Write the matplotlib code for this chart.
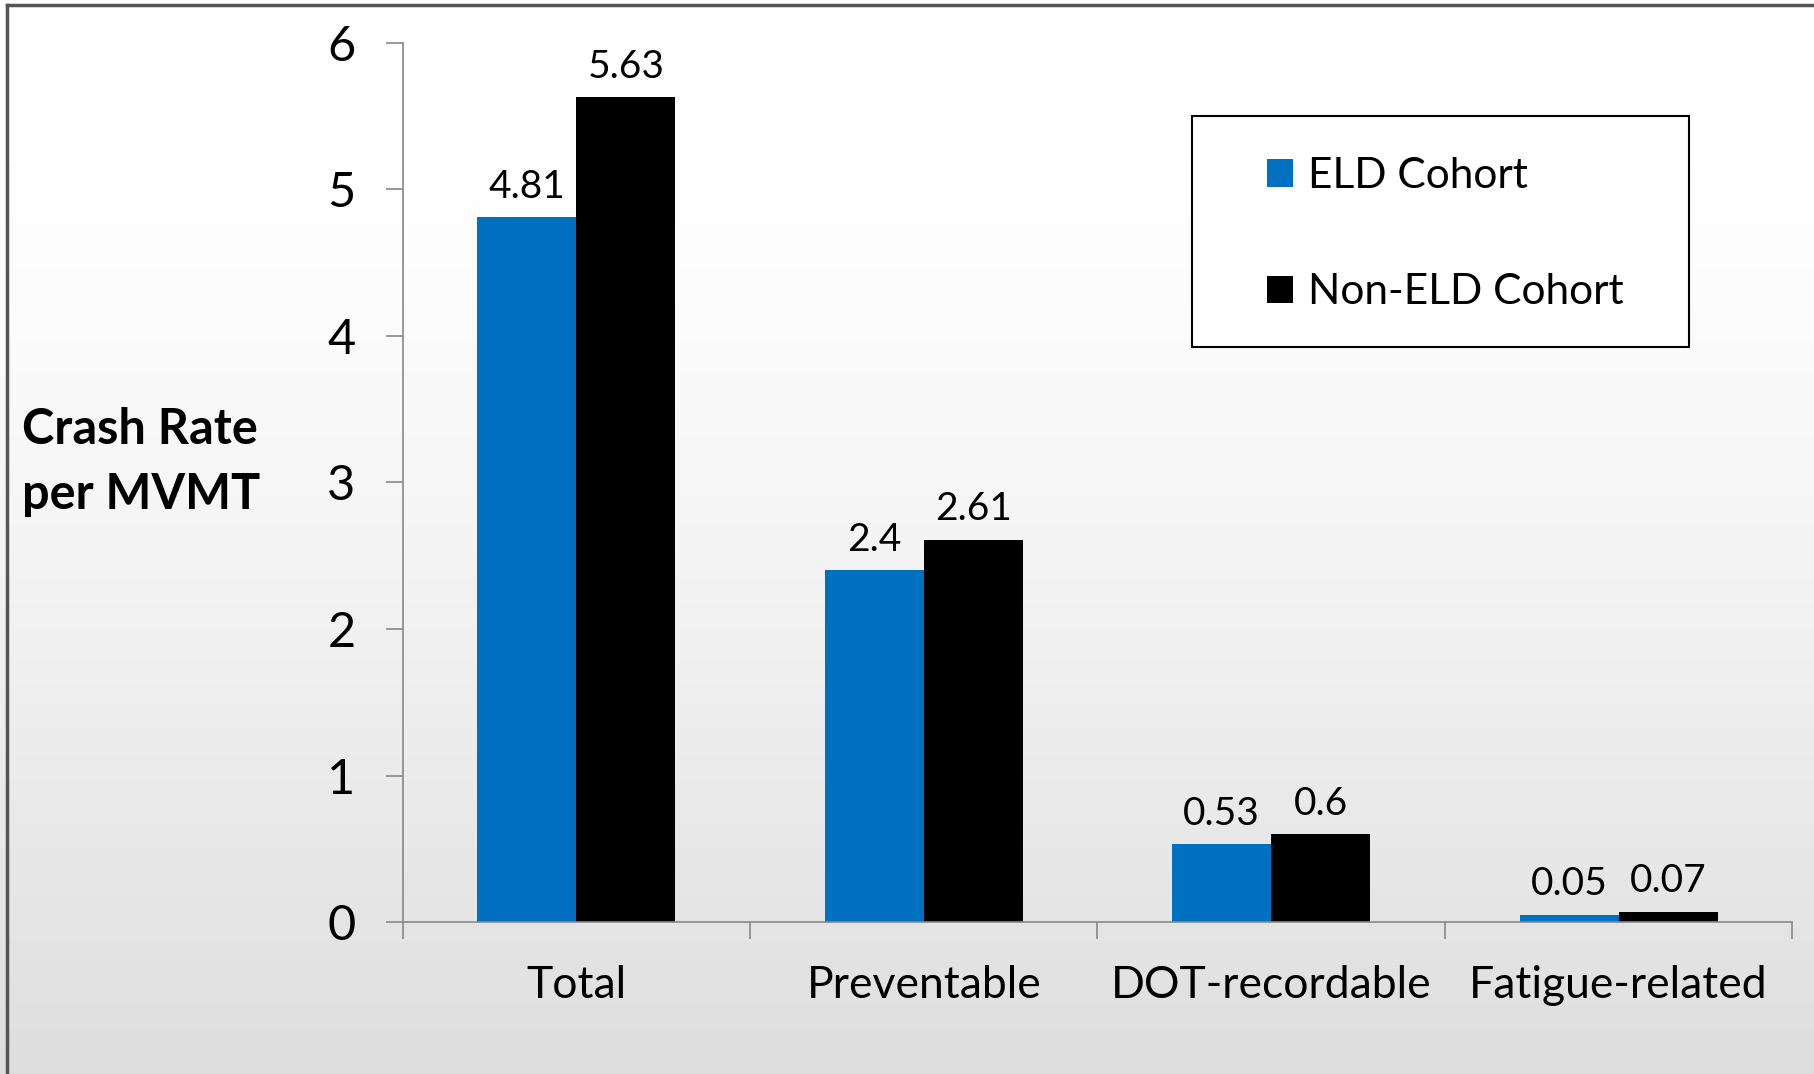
import numpy as np
import matplotlib.pyplot as plt
from matplotlib.patches import Rectangle
from matplotlib.lines import Line2D

plt.rcParams['font.family'] = ['Lato', 'DejaVu Sans']

# data
categories = ['Total', 'Preventable', 'DOT-recordable', 'Fatigue-related']
eld = [4.81, 2.4, 0.53, 0.05]
non_eld = [5.63, 2.61, 0.6, 0.07]
series_names = ['ELD Cohort', 'Non-ELD Cohort']
colors = ['#0070C0', '#000000']

fig = plt.figure(figsize=(18.14, 10.74), dpi=100)

# soft background: white at top fading to light grey
bg = fig.add_axes([0, 0, 1, 1], zorder=-10)
t = np.clip((np.linspace(0, 1, 256) - 0.15) / 0.85, 0, 1) ** 1.3
shade = (1 - 0.13 * t)[:, None]
bg.imshow(np.dstack([shade, shade, shade]), aspect='auto',
          extent=[0, 1, 0, 1], origin='upper')
bg.set_axis_off()

# screenshot frame lines
fig.add_artist(Line2D([0.004, 1], [0.995, 0.995], color='#555555', lw=2.5))
fig.add_artist(Line2D([0.004, 0.004], [0, 0.995], color='#555555', lw=2.5))

ax = fig.add_axes([0.222, 0.1415, 0.766, 0.8185])
ax.patch.set_alpha(0)

x = np.arange(len(categories))
w = 0.285
b1 = ax.bar(x - w / 2, eld, w, color=colors[0], label=series_names[0])
b2 = ax.bar(x + w / 2, non_eld, w, color=colors[1], label=series_names[1])

for bars, vals in ((b1, eld), (b2, non_eld)):
    for bar, v in zip(bars, vals):
        ax.annotate(f'{v:g}', (bar.get_x() + bar.get_width() / 2, v),
                    xytext=(0, 9), textcoords='offset points',
                    ha='center', va='bottom', fontsize=28)

ax.set_xlim(-0.5, len(categories) - 0.5)
ax.set_ylim(0, 6)
ax.set_yticks(range(7))
ax.set_xticks(x)
ax.set_xticklabels(categories, fontsize=32)
ax.set_xticks(np.arange(-0.5, len(categories)), minor=True)
ax.tick_params(axis='x', which='major', length=0, pad=31)
ax.tick_params(axis='x', which='minor', length=12, color='#888888', width=1.2)
ax.tick_params(axis='y', length=12, color='#888888', width=1.2, labelsize=35, pad=22)

for s in ('top', 'right'):
    ax.spines[s].set_visible(False)
ax.spines['left'].set_color('#888888')
ax.spines['bottom'].set_color('#888888')
ax.spines['left'].set_linewidth(1.2)
ax.spines['bottom'].set_linewidth(1.2)

fig.text(0.012, 0.57, 'Crash Rate\nper MVMT', fontsize=35, fontweight='bold',
         ha='left', va='center', linespacing=1.55)

# legend box
fig.add_artist(Rectangle((1192 / 1814, 1 - 347 / 1074), 497 / 1814, 231 / 1074,
                         transform=fig.transFigure, facecolor='white',
                         edgecolor='black', lw=1.5, zorder=5))
leg = fig.legend(handles=[b1, b2], loc='upper left',
                 bbox_to_anchor=(1267 / 1814, 1 - 157 / 1074),
                 frameon=False, fontsize=30.5, handlelength=0.62, handleheight=0.62,
                 handletextpad=0.35, labelspacing=1.85, borderpad=0, borderaxespad=0)
leg.set_zorder(6)

fig.savefig('out.png', dpi=100)
